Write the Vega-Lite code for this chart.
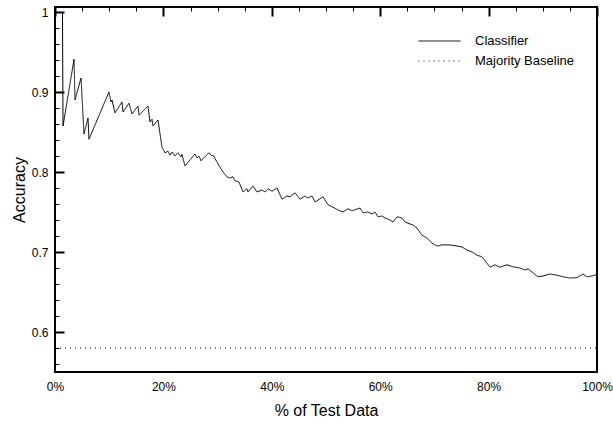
{
  "$schema": "https://vega.github.io/schema/vega-lite/v6.json",
  "width": 542,
  "height": 365,
  "autosize": "none",
  "padding": {"left": 55, "top": 7, "right": 16, "bottom": 51},
  "background": "white",
  "config": {
    "view": {"stroke": "black", "strokeWidth": 2},
    "font": "Liberation Sans",
    "axis": {
      "domain": false,
      "ticks": false,
      "gridColor": "black",
      "gridOpacity": 1,
      "labelFont": "Liberation Sans",
      "labelFontSize": 12,
      "labelColor": "black",
      "labelOverlap": false,
      "labelFlush": false,
      "titleFont": "Liberation Sans",
      "titleFontSize": 16,
      "titleFontWeight": "normal",
      "titleColor": "black"
    }
  },
  "datasets": {
    "acc": [
      {"x": 1.38, "y": 1.0, "s": "Classifier"},
      {"x": 1.48, "y": 0.8575, "s": "Classifier"},
      {"x": 3.51, "y": 0.941, "s": "Classifier"},
      {"x": 3.69, "y": 0.89, "s": "Classifier"},
      {"x": 4.8, "y": 0.9175, "s": "Classifier"},
      {"x": 5.35, "y": 0.8475, "s": "Classifier"},
      {"x": 6.09, "y": 0.8675, "s": "Classifier"},
      {"x": 6.27, "y": 0.841, "s": "Classifier"},
      {"x": 9.96, "y": 0.9, "s": "Classifier"},
      {"x": 10.33, "y": 0.8875, "s": "Classifier"},
      {"x": 10.52, "y": 0.89, "s": "Classifier"},
      {"x": 11.07, "y": 0.874, "s": "Classifier"},
      {"x": 12.36, "y": 0.8875, "s": "Classifier"},
      {"x": 12.55, "y": 0.875, "s": "Classifier"},
      {"x": 13.65, "y": 0.886, "s": "Classifier"},
      {"x": 14.21, "y": 0.8725, "s": "Classifier"},
      {"x": 15.31, "y": 0.8825, "s": "Classifier"},
      {"x": 15.5, "y": 0.871, "s": "Classifier"},
      {"x": 17.16, "y": 0.8825, "s": "Classifier"},
      {"x": 17.53, "y": 0.8625, "s": "Classifier"},
      {"x": 17.9, "y": 0.866, "s": "Classifier"},
      {"x": 18.08, "y": 0.8575, "s": "Classifier"},
      {"x": 19.0, "y": 0.865, "s": "Classifier"},
      {"x": 19.74, "y": 0.831, "s": "Classifier"},
      {"x": 20.3, "y": 0.824, "s": "Classifier"},
      {"x": 20.85, "y": 0.826, "s": "Classifier"},
      {"x": 21.22, "y": 0.821, "s": "Classifier"},
      {"x": 21.59, "y": 0.825, "s": "Classifier"},
      {"x": 22.14, "y": 0.82, "s": "Classifier"},
      {"x": 22.69, "y": 0.824, "s": "Classifier"},
      {"x": 23.25, "y": 0.819, "s": "Classifier"},
      {"x": 23.43, "y": 0.822, "s": "Classifier"},
      {"x": 23.99, "y": 0.8075, "s": "Classifier"},
      {"x": 25.83, "y": 0.8225, "s": "Classifier"},
      {"x": 26.2, "y": 0.8175, "s": "Classifier"},
      {"x": 26.57, "y": 0.82, "s": "Classifier"},
      {"x": 26.94, "y": 0.814, "s": "Classifier"},
      {"x": 28.41, "y": 0.824, "s": "Classifier"},
      {"x": 28.97, "y": 0.82, "s": "Classifier"},
      {"x": 29.15, "y": 0.821, "s": "Classifier"},
      {"x": 29.89, "y": 0.8125, "s": "Classifier"},
      {"x": 30.44, "y": 0.806, "s": "Classifier"},
      {"x": 31.0, "y": 0.8, "s": "Classifier"},
      {"x": 31.73, "y": 0.794, "s": "Classifier"},
      {"x": 32.29, "y": 0.7925, "s": "Classifier"},
      {"x": 32.84, "y": 0.794, "s": "Classifier"},
      {"x": 33.21, "y": 0.789, "s": "Classifier"},
      {"x": 33.95, "y": 0.7875, "s": "Classifier"},
      {"x": 34.69, "y": 0.775, "s": "Classifier"},
      {"x": 35.42, "y": 0.779, "s": "Classifier"},
      {"x": 35.61, "y": 0.775, "s": "Classifier"},
      {"x": 36.53, "y": 0.7825, "s": "Classifier"},
      {"x": 37.27, "y": 0.775, "s": "Classifier"},
      {"x": 38.19, "y": 0.7775, "s": "Classifier"},
      {"x": 38.75, "y": 0.775, "s": "Classifier"},
      {"x": 39.3, "y": 0.779, "s": "Classifier"},
      {"x": 40.04, "y": 0.776, "s": "Classifier"},
      {"x": 40.96, "y": 0.78, "s": "Classifier"},
      {"x": 41.88, "y": 0.766, "s": "Classifier"},
      {"x": 42.8, "y": 0.77, "s": "Classifier"},
      {"x": 43.36, "y": 0.769, "s": "Classifier"},
      {"x": 44.28, "y": 0.774, "s": "Classifier"},
      {"x": 45.2, "y": 0.766, "s": "Classifier"},
      {"x": 46.13, "y": 0.77, "s": "Classifier"},
      {"x": 46.68, "y": 0.7675, "s": "Classifier"},
      {"x": 47.42, "y": 0.77, "s": "Classifier"},
      {"x": 47.97, "y": 0.7625, "s": "Classifier"},
      {"x": 49.45, "y": 0.769, "s": "Classifier"},
      {"x": 50.37, "y": 0.759, "s": "Classifier"},
      {"x": 51.29, "y": 0.756, "s": "Classifier"},
      {"x": 52.21, "y": 0.7525, "s": "Classifier"},
      {"x": 53.14, "y": 0.75, "s": "Classifier"},
      {"x": 54.06, "y": 0.754, "s": "Classifier"},
      {"x": 54.8, "y": 0.7515, "s": "Classifier"},
      {"x": 56.27, "y": 0.755, "s": "Classifier"},
      {"x": 56.83, "y": 0.749, "s": "Classifier"},
      {"x": 57.75, "y": 0.75, "s": "Classifier"},
      {"x": 58.49, "y": 0.7475, "s": "Classifier"},
      {"x": 59.04, "y": 0.75, "s": "Classifier"},
      {"x": 59.59, "y": 0.744, "s": "Classifier"},
      {"x": 60.33, "y": 0.745, "s": "Classifier"},
      {"x": 60.89, "y": 0.7425, "s": "Classifier"},
      {"x": 61.81, "y": 0.74, "s": "Classifier"},
      {"x": 62.36, "y": 0.7375, "s": "Classifier"},
      {"x": 63.1, "y": 0.744, "s": "Classifier"},
      {"x": 64.02, "y": 0.7425, "s": "Classifier"},
      {"x": 64.58, "y": 0.7375, "s": "Classifier"},
      {"x": 65.5, "y": 0.735, "s": "Classifier"},
      {"x": 66.05, "y": 0.7338, "s": "Classifier"},
      {"x": 66.79, "y": 0.73, "s": "Classifier"},
      {"x": 67.71, "y": 0.721, "s": "Classifier"},
      {"x": 68.63, "y": 0.7175, "s": "Classifier"},
      {"x": 69.56, "y": 0.711, "s": "Classifier"},
      {"x": 70.48, "y": 0.7075, "s": "Classifier"},
      {"x": 71.59, "y": 0.709, "s": "Classifier"},
      {"x": 72.88, "y": 0.7088, "s": "Classifier"},
      {"x": 74.17, "y": 0.7075, "s": "Classifier"},
      {"x": 75.09, "y": 0.7063, "s": "Classifier"},
      {"x": 76.01, "y": 0.7025, "s": "Classifier"},
      {"x": 76.94, "y": 0.7, "s": "Classifier"},
      {"x": 77.86, "y": 0.696, "s": "Classifier"},
      {"x": 78.78, "y": 0.694, "s": "Classifier"},
      {"x": 79.7, "y": 0.686, "s": "Classifier"},
      {"x": 80.26, "y": 0.681, "s": "Classifier"},
      {"x": 81.18, "y": 0.684, "s": "Classifier"},
      {"x": 82.1, "y": 0.681, "s": "Classifier"},
      {"x": 83.39, "y": 0.684, "s": "Classifier"},
      {"x": 84.5, "y": 0.6815, "s": "Classifier"},
      {"x": 85.79, "y": 0.68, "s": "Classifier"},
      {"x": 86.72, "y": 0.6775, "s": "Classifier"},
      {"x": 87.27, "y": 0.679, "s": "Classifier"},
      {"x": 88.19, "y": 0.674, "s": "Classifier"},
      {"x": 89.11, "y": 0.669, "s": "Classifier"},
      {"x": 90.04, "y": 0.67, "s": "Classifier"},
      {"x": 91.33, "y": 0.6725, "s": "Classifier"},
      {"x": 92.62, "y": 0.671, "s": "Classifier"},
      {"x": 93.73, "y": 0.669, "s": "Classifier"},
      {"x": 95.02, "y": 0.6675, "s": "Classifier"},
      {"x": 96.31, "y": 0.668, "s": "Classifier"},
      {"x": 97.42, "y": 0.6725, "s": "Classifier"},
      {"x": 98.15, "y": 0.669, "s": "Classifier"},
      {"x": 99.08, "y": 0.67, "s": "Classifier"},
      {"x": 100, "y": 0.672, "s": "Classifier"},
      {"x": 0, "y": 0.58, "s": "Majority Baseline"},
      {"x": 100, "y": 0.58, "s": "Majority Baseline"}
    ]
  },
  "layer": [
    {
      "data": {"name": "acc"},
      "mark": {"type": "line", "color": "black", "strokeWidth": 1},
      "encoding": {
        "x": {
          "field": "x",
          "type": "quantitative",
          "scale": {"domain": [0, 100], "nice": false, "zero": false},
          "axis": {
            "orient": "bottom",
            "title": "% of Test Data",
            "values": [0, 20, 40, 60, 80, 100],
            "labelExpr": "datum.value + '%'",
            "grid": true,
            "gridDash": [9, 2000],
            "gridWidth": 2,
            "labelPadding": 9,
            "titlePadding": 10
          }
        },
        "y": {
          "field": "y",
          "type": "quantitative",
          "scale": {"domain": [0.55, 1.00625], "nice": false, "zero": false},
          "axis": {
            "orient": "left",
            "title": "Accuracy",
            "values": [0.6, 0.7, 0.8, 0.9, 1.0],
            "format": "~g",
            "grid": true,
            "gridDash": [9, 2000],
            "gridWidth": 2,
            "labelPadding": 7,
            "titlePadding": 4
          }
        },
        "strokeDash": {
          "field": "s",
          "type": "nominal",
          "scale": {"domain": ["Classifier", "Majority Baseline"], "range": [[1, 0], [1, 4]]},
          "legend": {
            "orient": "none",
            "legendX": 363,
            "legendY": 25,
            "title": null,
            "padding": 0,
            "symbolType": "stroke",
            "symbolSize": 1764,
            "symbolStrokeWidth": 1,
            "symbolStrokeColor": "black",
            "labelFont": "Liberation Sans",
            "labelFontSize": 13,
            "labelColor": "black",
            "labelOffset": 14,
            "clipHeight": 18,
            "rowPadding": 2
          }
        }
      }
    },
    {
      "data": {"name": "acc"},
      "mark": {"type": "point", "opacity": 0},
      "encoding": {
        "x": {
          "field": "x",
          "type": "quantitative",
          "axis": {
            "orient": "bottom",
            "title": null,
            "labels": false,
            "values": [5, 10, 15, 25, 30, 35, 45, 50, 55, 65, 70, 75, 85, 90, 95],
            "grid": true,
            "gridDash": [4, 2000],
            "gridWidth": 1
          }
        },
        "y": {
          "field": "y",
          "type": "quantitative",
          "axis": {
            "orient": "left",
            "title": null,
            "labels": false,
            "values": [0.56, 0.58, 0.62, 0.64, 0.66, 0.68, 0.72, 0.74, 0.76, 0.78, 0.82, 0.84, 0.86, 0.88, 0.92, 0.94, 0.96, 0.98],
            "grid": true,
            "gridDash": [4, 2000],
            "gridWidth": 1
          }
        }
      }
    }
  ],
  "resolve": {"axis": {"x": "independent", "y": "independent"}}
}
